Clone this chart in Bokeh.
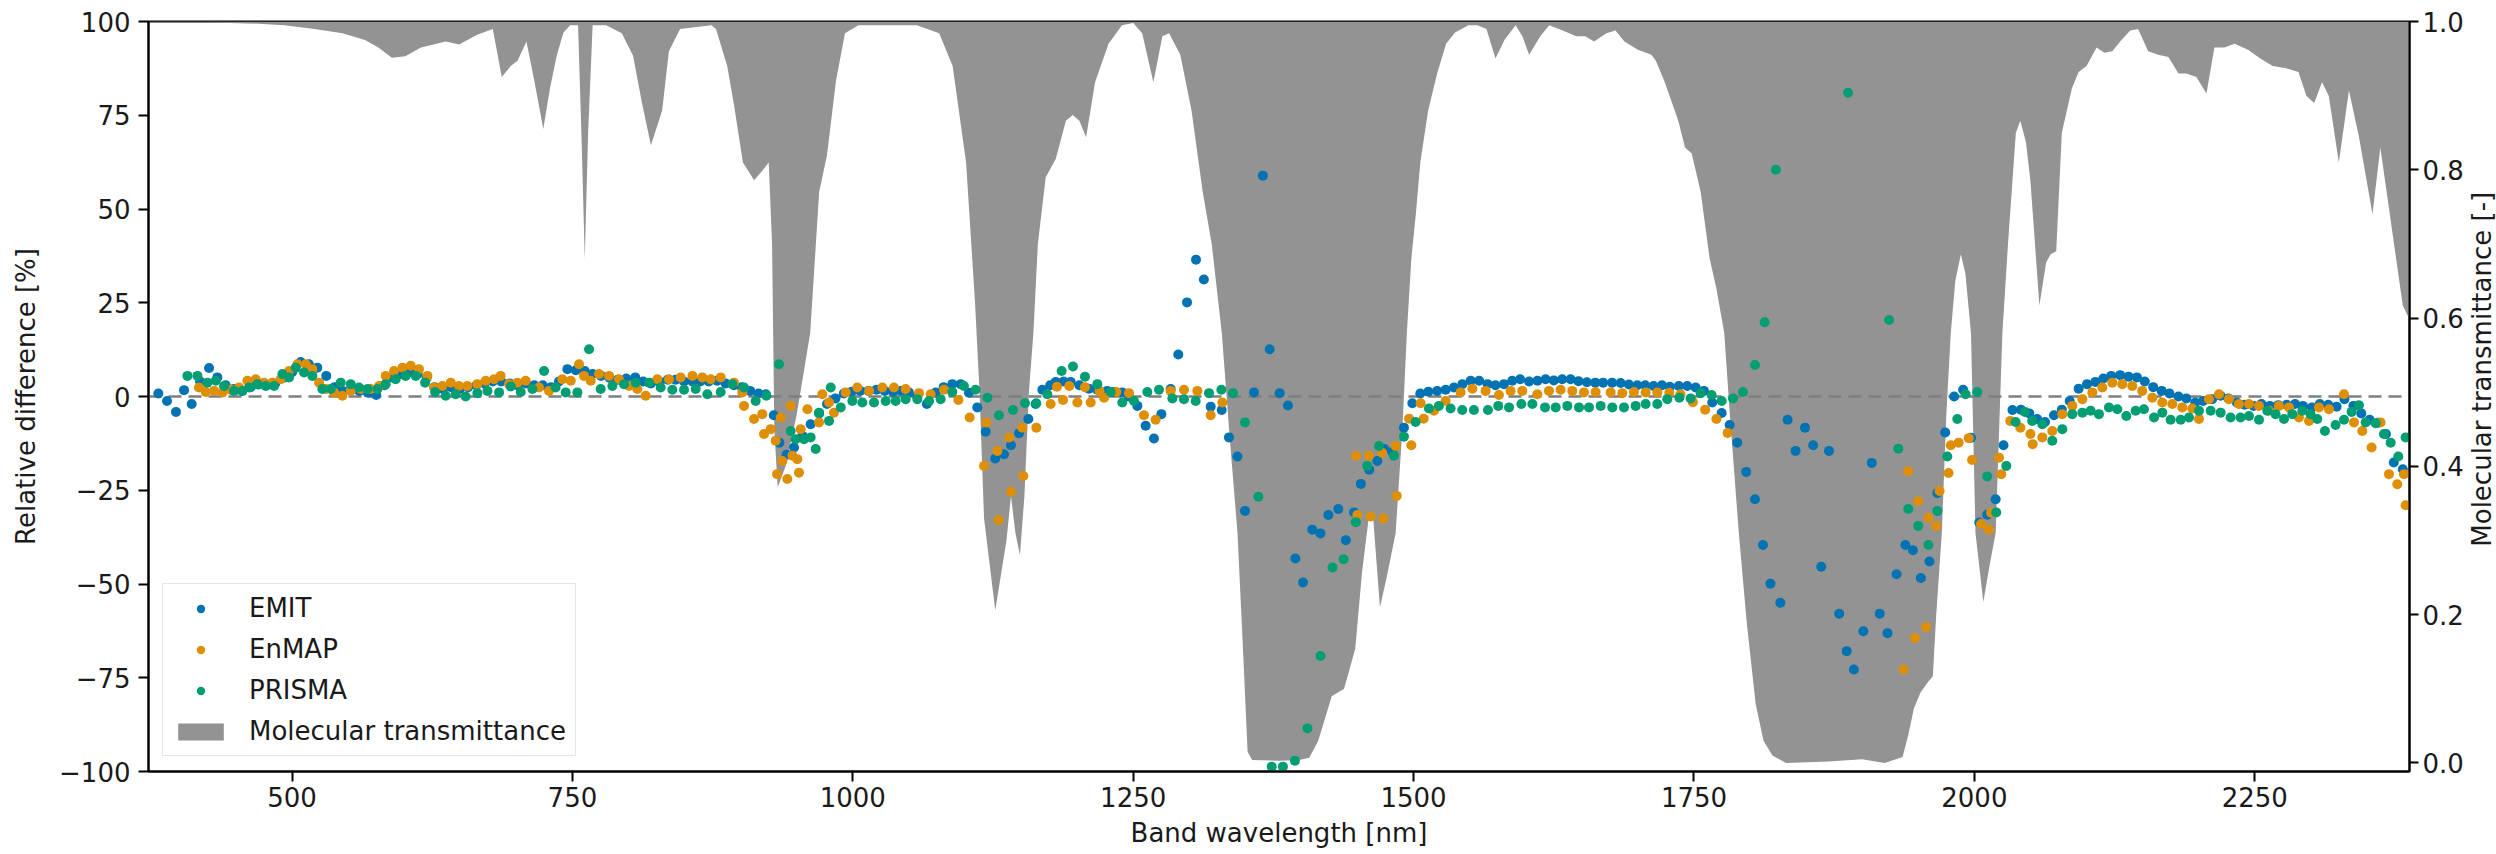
import math
from bokeh.plotting import figure
from bokeh.layouts import row
from bokeh.models import (Range1d, LinearAxis, FixedTicker, Span, Legend, LegendItem,
                          CustomJSTickFormatter, NumeralTickFormatter)
from bokeh.core.properties import value
from bokeh.embed import file_html
from bokeh.resources import INLINE

# ---------------- data ----------------
emit_wl = [380.8, 388.5, 396.5, 403.7, 410.5, 418, 426, 433.4, 440.8, 448, 455.5, 463, 470, 477.5, 485,
           492.4, 500, 507.7, 515, 522.5, 530.5, 538, 545, 552.5, 560, 567.5, 575, 582.5, 590, 597.5,
           605, 612, 620, 627, 634.5, 642, 649.5, 657, 664.5, 671.5, 679, 686.5, 694, 701, 708.5, 716,
           723.5, 731, 738, 745.5, 753, 761, 768, 775.5, 783, 790.5, 798, 806, 813, 820, 827.5, 835,
           842, 849.5, 857, 864, 871.5, 879, 886.5, 894, 901, 908.5, 916, 922.5, 929.5, 934.5, 941,
           947.6, 955, 962.4, 970, 977, 984.5, 992, 999, 1006.5, 1014, 1021, 1028.5, 1036, 1043, 1050,
           1057.5, 1066, 1074, 1081, 1088.7, 1096.2, 1103.5, 1111, 1118.5, 1127, 1134.8, 1141, 1148.2,
           1156.5, 1163, 1169, 1176, 1181, 1188, 1194.2, 1202, 1210.6, 1218, 1226.9, 1233, 1240.3, 1246,
           1253.7, 1261.1, 1268.5, 1275.1, 1283.4, 1290.2, 1298, 1306, 1313, 1319.1, 1328.9, 1335.4,
           1342.9, 1349.7, 1357.7, 1365.6, 1371.7, 1380.6, 1388, 1394.6, 1401.4, 1409.7, 1416.9, 1424,
           1432.9, 1439.6, 1446.9, 1453, 1460.5, 1467.7, 1474, 1481, 1491.4, 1498.9, 1506, 1513.2, 1521,
           1528.6, 1536, 1543.5, 1550.9, 1558.5, 1566, 1573, 1580.6, 1588, 1595, 1603, 1610.5, 1617.7,
           1625, 1632.5, 1640, 1647, 1654.5, 1662, 1669, 1677, 1684.6, 1692, 1699.5, 1706.5, 1714,
           1721.5, 1728.5, 1736.5, 1744, 1751.5, 1758.9, 1766.3, 1774.7, 1781.8, 1788.6, 1796.6, 1804.4,
           1811.5, 1818.2, 1827, 1833.5, 1840.6, 1849, 1856.3, 1863.5, 1870.4, 1879.5, 1886.2, 1892.6,
           1901, 1908.5, 1915.6, 1922.6, 1930.6, 1938.5, 1945.3, 1952.3, 1960, 1967, 1974, 1982, 1990,
           1997, 2004.4, 2011.5, 2019, 2026, 2034, 2041.5, 2049, 2056, 2063, 2071, 2078, 2085, 2093,
           2100.5, 2108, 2115, 2122, 2130, 2137.5, 2145, 2152, 2159.5, 2167, 2174, 2182, 2189, 2197,
           2204, 2212, 2219.5, 2226.5, 2234, 2241, 2249, 2256, 2263.5, 2271, 2278.5, 2286, 2293, 2301,
           2308, 2315.5, 2323, 2330, 2338, 2345, 2352.5, 2360, 2367, 2374, 2382]
emit_rd = [0.8, -1.2, -4.1, 1.7, -2.0, 4.0, 7.6, 5.1, 3.0, 2.0, 1.5, 2.5, 3.2, 3.0, 3.5,
           5.0, 6.5, 9.2, 8.6, 7.7, 5.5, 2.5, 1.5, 2.0, 1.5, 1.0, 0.4, 3.0, 5.0, 6.0,
           6.5, 6.0, 5.0, 2.5, 2.0, 2.5, 2.0, 2.5, 3.0, 3.5, 4.0, 4.0, 3.5, 3.0, 3.5, 3.0,
           3.0, 2.5, 4.0, 7.3, 7.0, 6.8, 6.0, 5.5, 5.0, 4.5, 4.8, 5.1, 4.0, 3.5, 4.0, 4.5,
           4.5, 4.0, 4.0, 4.0, 4.0, 4.2, 3.5, 3.0, 2.5, 1.5, 0.8, 0.6, -5.0, -12.3, -15.5,
           -13.6, -10.5, -7.4, -4.5, -2.0, -0.5, 0.8, 1.3, 1.5, 1.5, 1.8, 1.5, 1.2, 1.5, 1.1,
           0.0, -2.0, 1.1, 2.5, 3.3, 3.3, 1.0, -2.9, -9.4, -16.5, -15.4, -13.0, -9.8,
           -6.0, -2.0, 1.8, 3.0, 3.9, 4.0, 3.9, 3.0, 2.1, 1.8, 1.5, 1.2, 1.1, 0.0,
           -2.5, -7.8, -11.2, -4.7, 2.0, 11.2, 25.1, 36.5, 31.2, -2.7, -3.6, -10.9,
           -16.0, -30.5, 1.1, 58.9, 12.6, 0.9, -2.4, -43.2, -49.6, -35.5, -36.5, -31.6,
           -30.0, -38.3, -30.9, -23.3, -19.5, -17.2, -14.0, -14.8, -8.3, -1.8, 0.8, 1.3, 1.5,
           1.8, 2.4, 3.3, 4.2, 4.2, 3.3, 3.0, 3.3, 4.2, 4.6, 4.0, 4.2, 4.6,
           4.3, 4.6, 4.6, 4.1, 3.8, 3.7, 3.7, 3.7, 3.6, 3.2, 3.0, 3.0, 2.8,
           3.0, 2.6, 2.8, 2.8, 2.4, 1.5, -1.6, -4.4, -7.6, -12.3, -20.1, -27.4,
           -39.6, -49.9, -55.0, -6.2, -14.5, -8.3, -13.0, -45.4, -14.5, -57.9, -67.9, -72.8,
           -62.6, -17.7, -57.9, -63.1, -47.4, -39.6, -41.0, -48.4, -44.0, -25.7, -9.6, 0.0, 1.8,
           -11.0, -33.6, -31.5, -27.4, -13.0, -3.6, -3.5, -4.5, -6.0, -6.8, -5.0, -3.5, -1.2, 2.1,
           3.3, 3.9, 4.8, 5.5, 5.7, 5.3, 5.1, 4.0, 2.5, 1.5, 0.8, 0.0, -0.5, -1.6,
           -1.2, -0.7, 0.2, -0.5, -1.6, -2.2, -2.5, -2.0, -2.5, -2.3, -2.2, -2.0, -2.5, -2.9,
           -2.0, -2.2, -2.7, -0.7, -2.5, -4.5, -6.2, -7.0, -10.0, -17.6, -19.4]

enmap_wl = [417, 423, 430.5, 438, 445.3, 452.7, 460.2, 467.6, 475, 482.5, 489.9, 497.3, 504.8, 512.2,
            518.1, 524.1, 530, 537.4, 544.9, 552.3, 561.2, 570.1, 577.6, 583.5, 590.9, 598.4, 605.8,
            613.2, 620.7, 626.6, 634, 641.5, 648.9, 656.3, 665.2, 672.7, 680.1, 686, 693.5, 700.9,
            708.3, 720.2, 729.1, 741, 748.5, 755.9, 760.3, 766.3, 773.7, 782.6, 791.5, 800.5, 807.9,
            815.3, 825.7, 836.1, 846.5, 857, 865.8, 873.3, 882.2, 894.1, 901.5, 903, 911.9, 919.3,
            920.8, 926.8, 931.2, 932.5, 935.7, 937.2, 941.6, 944.6, 946.1, 950.5, 952, 953.5, 959.5,
            969.9, 972.8, 978.8, 983.2, 993.7, 1004, 1014.5, 1026.3, 1036.7, 1047.1, 1059, 1069.4,
            1081.3, 1094.1, 1104.2, 1117, 1119, 1128.9, 1130, 1139.3, 1141, 1151.1, 1152, 1163.6,
            1176.4, 1182, 1187.4, 1193, 1200.2, 1207, 1212.1, 1220, 1224, 1235, 1246.3, 1259.6, 1270,
            1283.4, 1295.3, 1307.2, 1319.1, 1329.5, 1448.7, 1449.8, 1460.2, 1461.7, 1472, 1473, 1484,
            1485, 1496, 1498, 1506.3, 1509, 1518.2, 1528.6, 1541.9, 1552.4, 1564.2, 1576.1, 1586.5,
            1596.9, 1610.3, 1620.7, 1631.1, 1641.5, 1651.9, 1662.3, 1675.7, 1686.1, 1696.5, 1706.9,
            1717.3, 1728, 1738, 1749, 1760, 1770, 1780, 1937, 1941, 1947, 1950, 1957, 1959, 1966,
            1969, 1977, 1979, 1986, 1995, 1998, 2006, 2013, 2015, 2022, 2024, 2032, 2041, 2050, 2052,
            2060.6, 2069.5, 2078.4, 2087.3, 2096.3, 2105.2, 2114.1, 2123, 2131.9, 2140.8, 2149.7,
            2158.7, 2167.6, 2176.5, 2185.4, 2194.3, 2200.3, 2209.2, 2218.1, 2227, 2235.9, 2244.9,
            2253.8, 2262.7, 2271.6, 2280.5, 2289.4, 2298.4, 2307.3, 2316.2, 2329.6, 2338.5, 2345.9,
            2354.2, 2362.2, 2369.7, 2377.1, 2383.1, 2384.5]
enmap_rd = [2.4, 1.2, 1.5, 1.1, 1.8, 2.4, 4.2, 4.6, 3.7, 3.7, 4.6, 6.8, 8.6, 8.6,
            7.3, 3.7, 2.0, 1.1, 0.2, 1.5, 2.0, 2.0, 2.8, 5.5, 6.8, 7.7, 8.2,
            7.3, 5.5, 2.4, 2.8, 3.7, 2.8, 2.8, 3.3, 4.2, 4.6, 5.5, 3.3, 3.7,
            4.2, 2.4, 1.5, 4.6, 4.2, 8.6, 5.5, 4.2, 6.0, 5.5, 4.6, 2.8, 2.0,
            0.2, 4.6, 4.6, 5.1, 5.5, 5.1, 4.6, 5.1, 3.7, 1.1, -2.5, -6.0, -4.7,
            -10.0, -8.7, -11.8, -20.7, -5.6, -17.2, -22.0, -2.5, -15.8, -16.7, -20.3, -8.7, -3.4,
            -6.9, 0.6, -1.6, -4.3, 1.1, 2.4, 1.5, 2.4, 2.4, 2.0, 0.9, 0.6,
            1.8, -0.9, -5.6, -18.5, -6.9, -14.5, -32.9, -10.9, -25.4, -8.3, -21.2, -8.3,
            -2.0, 2.6, -0.9, 2.8, -1.6, 2.5, -1.6, 1.5, -0.3, 1.2, 0.9, -5.0, -6.2,
            1.5, 1.8, 1.5, -5.0, -1.6, -15.8, -31.6, -15.8, -32.0, -15.0, -32.5, -13.2,
            -26.5, -5.9, -13.0, -1.8, -5.9, -3.8, -1.2, 1.1, 2.1, 1.5, 0.4, 1.5,
            1.5, 0.6, 1.5, 1.8, 1.5, 1.1, 1.2, 1.1, 0.9, 1.2, 1.1,
            1.1, 1.0, 0.6, -1.5, -3.5, -6.0, -9.7, -72.8, -19.9, -64.4, -27.9, -61.5, -32.3, -34.5,
            -25.2, -20.4, -13.0, -12.3, -11.1, -16.9, -34.0, -35.5, -31.0, -16.3, -20.7, -6.5, -8.3, -10.0, -12.7,
            -10.9, -9.2, -4.7, -2.5, -0.7, 1.1, 2.4, 3.7, 3.3, 2.8, 1.5,
            -0.3, -1.6, -2.0, -2.9, -3.2, -6.0, -0.7, 0.6, -0.7, -2.0, -2.0,
            -2.5, -3.8, -2.5, -2.9, -5.6, -6.5, -2.9, -3.4, 0.6, -6.9, -9.2,
            -13.6, -6.9, -20.7, -23.4, -20.7, -29.0]

prisma_wl = [406.7, 415.6, 424.5, 432, 439.4, 448.3, 455.7, 461.7, 469.1, 476.5, 484, 491.4, 497.3,
             503.3, 510.7, 518.1, 527, 534.5, 543.4, 552.3, 559.7, 567.2, 576.1, 583.5, 592.4, 601.3,
             610.3, 618.6, 627.5, 637, 645.9, 654.8, 665.2, 674.2, 684.6, 695, 703.9, 714.3, 724.7,
             735, 744, 754.4, 764.8, 775.2, 785.6, 796, 806.4, 818.3, 828.7, 839.1, 849.5, 859.9,
             870.3, 882.2, 892.6, 903, 913.4, 922.9, 934.2, 944.6, 949, 956.5, 962.4, 966.9, 969.9,
             978.8, 980.3, 989.2, 999.6, 1008.5, 1018.9, 1029.3, 1038.2, 1047.1, 1057.5, 1068, 1078.3,
             1088.7, 1099.1, 1109.5, 1120, 1130.3, 1142.8, 1153.5, 1163.6, 1173.4, 1186.2, 1196.3,
             1207, 1218, 1229.9, 1240.3, 1250.7, 1262.6, 1273, 1284.9, 1295.3, 1305.7, 1317.6, 1328.6,
             1339, 1349.7, 1361.6, 1373.5, 1383.5, 1394.2, 1405.4, 1417, 1427.7, 1437.6, 1448.5,
             1458.7, 1469.1, 1482.5, 1491.4, 1501.8, 1513.7, 1522.6, 1533, 1543.4, 1553.8, 1566.3,
             1575.5, 1585.1, 1596.1, 1605.9, 1617.2, 1626.7, 1637.1, 1647.5, 1656.4, 1666.8, 1677.2,
             1687.6, 1698, 1706.9, 1717.3, 1726.2, 1737, 1747, 1756, 1765.7, 1774.7, 1784.8, 1793.7,
             1804.4, 1813, 1823, 1887.4, 1924, 1932.2, 1941.1, 1950, 1959, 1967, 1975.9, 1984.8,
             1992.2, 2002.6, 2011.5, 2019.5, 2028.5, 2036.8, 2045.1, 2051.6, 2060.6, 2069.5, 2078.4,
             2087.3, 2096.3, 2103.7, 2111.1, 2120, 2127.5, 2135.5, 2143.8, 2151.2, 2160.2, 2167.6,
             2175, 2184, 2191.4, 2200.3, 2210.7, 2219.6, 2228.5, 2237.4, 2244.9, 2253.8, 2261.2,
             2268.6, 2276.1, 2283.5, 2292.4, 2299.8, 2305.8, 2312.6, 2322.1, 2329.6, 2336.4, 2342.9,
             2348.9, 2357.8, 2365.2, 2371.2, 2378, 2384.5]
prisma_rd = [5.5, 5.5, 3.7, 4.2, 2.8, 1.5, 1.5, 2.4, 3.3, 2.8, 2.8, 6.0, 5.1,
             7.7, 6.4, 5.5, 2.0, 2.0, 3.7, 3.3, 2.4, 2.0, 2.0, 3.3, 4.6, 5.5,
             5.5, 3.7, 1.2, 0.2, 0.6, 0.0, 0.9, 1.5, 1.1, 2.7, 1.2, 2.0, 6.8,
             2.4, 1.1, 1.1, 12.6, 2.0, 2.8, 3.3, 3.7, 3.7, 2.4, 1.8, 1.8, 2.0,
             0.6, 1.2, 3.3, 2.4, -1.2, 0.2, 8.6, -9.2, -11.4, -11.4, -10.9, -14.0, -4.3,
             -6.5, 2.4, -2.9, -1.2, -1.6, -1.6, -1.2, -1.2, -0.7, -0.7, -1.2, -0.7,
             1.2, 2.8, 1.8, -0.3, -5.0, -3.6, -1.8, -1.8, 0.6, 6.8, 8.0,
             5.3, 3.3, 1.2, -1.6, -1.2, 1.2, 1.8, -0.5, -0.7, -1.2, 0.9, 1.8,
             0.9, -6.9, -26.7, -98.7, -98.7, -97.1, -88.5, -69.2, -45.6, -43.4, -33.5,
             -18.5, -13.2, -15.8, -10.7, -6.8, -3.2, -2.5, -3.2, -3.6, -3.6, -3.6,
             -2.5, -2.9, -2.0, -2.0, -2.9, -2.9, -2.5, -2.9, -2.9, -2.5, -2.9,
             -2.9, -2.5, -2.0, -2.0, -0.7, -0.3, -0.5, 0.9, 0.4, -1.2, -0.5, 1.2,
             8.4, 19.8, 60.5, 81.0, 20.4, -13.9, -30.0, -34.5, -39.6, -30.5, -16.0, -6.0,
             0.6, 1.2, -21.3, -30.9, -18.5, -6.8, -4.1, -6.5, -7.4, -11.8, -8.7,
             -4.7, -4.3, -3.8, -4.7, -2.9, -3.4, -5.2, -3.8, -3.4, -5.6, -4.3,
             -6.2, -6.2, -5.6, -3.8, -3.8, -4.3, -5.6, -5.6, -5.2, -6.2, -3.8,
             -4.7, -6.0, -4.7, -3.8, -4.7, -6.0, -9.2, -7.6, -6.2, -4.1, -2.3,
             -6.9, -7.1, -10.0, -12.3, -16.0, -10.9]

trans_wl = [372, 420, 470, 493, 520, 545, 565, 577, 589, 601, 615, 637, 649, 665, 679, 687, 695, 701,
            709, 716, 724, 730, 736, 742, 748, 755, 758, 761, 764, 768, 780, 794, 804, 812, 820, 830,
            836, 846, 874, 878, 888, 894, 902, 912, 920, 925, 928, 930, 933, 940, 950, 962, 970, 977,
            985, 993, 1005, 1057, 1077, 1089, 1101, 1109, 1113, 1117, 1127, 1137, 1141, 1145, 1149,
            1153, 1157, 1161, 1165, 1172, 1181, 1190, 1196, 1202, 1208, 1216, 1228, 1240, 1250, 1258,
            1268, 1276, 1282, 1292, 1302, 1312, 1320, 1329, 1336, 1343, 1348, 1352, 1356, 1380, 1398,
            1407, 1415, 1427, 1438, 1448, 1454, 1460, 1464, 1470, 1476, 1484, 1490, 1494, 1498, 1502,
            1506, 1513, 1521, 1529, 1537, 1549, 1557, 1565, 1573, 1581, 1591, 1597, 1603, 1613, 1621,
            1633, 1645, 1653, 1661, 1672, 1680, 1688, 1700, 1712, 1716, 1724, 1736, 1742, 1748, 1756,
            1764, 1770, 1777, 1782, 1786, 1790, 1797, 1805, 1812, 1820, 1832, 1870, 1900, 1920, 1936,
            1941, 1946, 1952, 1959, 1963, 1966, 1971, 1975, 1979, 1983, 1988, 1992, 1997, 2001, 2008,
            2014, 2019, 2025, 2030, 2037, 2041, 2046, 2050, 2058, 2064, 2068, 2073, 2078, 2087, 2093,
            2100, 2109, 2116, 2123, 2130, 2139, 2146, 2155, 2164, 2173, 2182, 2189, 2198, 2207, 2214,
            2223, 2232, 2244, 2255, 2266, 2278, 2289, 2296, 2303, 2310, 2316, 2325, 2334, 2343, 2355,
            2362, 2371, 2382, 2389]
trans_val = [0.999, 0.999, 0.997, 0.995, 0.99, 0.984, 0.975, 0.965, 0.951, 0.953, 0.965, 0.973, 0.969,
             0.982, 0.99, 0.925, 0.94, 0.947, 0.973, 0.92, 0.855, 0.91, 0.954, 0.985, 0.995, 0.995,
             0.85, 0.68, 0.85, 0.995, 0.995, 0.984, 0.954, 0.89, 0.833, 0.88, 0.96, 0.99, 0.995, 0.99,
             0.94, 0.888, 0.81, 0.786, 0.80, 0.81, 0.70, 0.45, 0.372, 0.40, 0.47, 0.58, 0.77, 0.82,
             0.92, 0.984, 0.995, 0.995, 0.984, 0.94, 0.81, 0.62, 0.50, 0.33, 0.206, 0.30, 0.36, 0.31,
             0.28, 0.36, 0.50, 0.58, 0.70, 0.79, 0.815, 0.866, 0.874, 0.866, 0.844, 0.918, 0.97, 0.995,
             0.998, 0.984, 0.918, 0.98, 0.984, 0.955, 0.88, 0.77, 0.70, 0.58, 0.44, 0.31, 0.15, 0.015,
             0.004, 0.003, 0.004, 0.007, 0.03, 0.09, 0.10, 0.154, 0.257, 0.33, 0.33, 0.21, 0.25, 0.31,
             0.45, 0.58, 0.68, 0.74, 0.81, 0.88, 0.93, 0.97, 0.985, 0.995, 0.995, 0.99, 0.95, 0.975,
             0.995, 0.98, 0.955, 0.98, 0.995, 0.988, 0.98, 0.98, 0.973, 0.984, 0.988, 0.973, 0.962,
             0.955, 0.947, 0.918, 0.866, 0.83, 0.822, 0.77, 0.68, 0.64, 0.58, 0.47, 0.39, 0.31, 0.19,
             0.08, 0.03, 0.01, 0.0, 0.002, 0.005, 0.0, 0.008, 0.037, 0.073, 0.095, 0.11, 0.117, 0.20,
             0.31, 0.47, 0.58, 0.65, 0.686, 0.66, 0.58, 0.31, 0.217, 0.27, 0.31, 0.58, 0.70, 0.85, 0.866,
             0.837, 0.785, 0.617, 0.675, 0.686, 0.69, 0.85, 0.91, 0.932, 0.94, 0.965, 0.958, 0.96,
             0.973, 0.988, 0.99, 0.96, 0.955, 0.952, 0.93, 0.93, 0.925, 0.903, 0.965, 0.965, 0.97,
             0.962, 0.95, 0.94, 0.937, 0.932, 0.90, 0.89, 0.918, 0.90, 0.81, 0.907, 0.844, 0.74, 0.83,
             0.734, 0.617, 0.595]

x_ticks = [500, 750, 1000, 1250, 1500, 1750, 2000, 2250]
y_ticks = [-100, -75, -50, -25, 0, 25, 50, 75, 100]
t_ticks = [0.0, 0.2, 0.4, 0.6, 0.8, 1.0]
right_title = ["Molecular transmittance [-]"]

# ---------------- styling ----------------
FONT = "DejaVu Sans"
FS = "26px"
TXT = "#1a1a1a"
C_EMIT, C_ENMAP, C_PRISMA = "#0173b2", "#de8f05", "#029e73"
C_FILL = "#939393"
MAIN_W, SIDE_W, H = 2466, 30, 854

p = figure(width=MAIN_W, height=H, output_backend="svg", toolbar_location=None,
           x_range=Range1d(372, 2388), y_range=Range1d(-100, 100),
           min_border_left=148, min_border_right=MAIN_W - 2411, min_border_top=21,
           min_border_bottom=83)
p.extra_y_ranges = {"trans": Range1d(-0.0115, 1.0)}
p.xgrid.visible = False
p.ygrid.visible = False
p.outline_line_color = "black"
p.outline_line_width = 2
p.background_fill_color = "white"
p.border_fill_color = "white"

fill_r = p.varea(x=trans_wl, y1=trans_val, y2=1.0, y_range_name="trans",
                 fill_color=C_FILL, level="image")

zero = Span(location=0, dimension="width", line_color="#7f7f7f", line_width=2.5,
            line_dash="13 7", level="underlay")
p.add_layout(zero)

r_emit = p.scatter(emit_wl, emit_rd, size=10, fill_color=C_EMIT, line_color=None)
r_enmap = p.scatter(enmap_wl, enmap_rd, size=10, fill_color=C_ENMAP, line_color=None)
r_prisma = p.scatter(prisma_wl, prisma_rd, size=10, fill_color=C_PRISMA, line_color=None)


def style_axis(ax):
    ax.axis_line_color = "black"
    ax.axis_line_width = 2
    ax.major_tick_line_color = "black"
    ax.major_tick_line_width = 2
    ax.major_tick_in = 0
    ax.major_tick_out = 10
    ax.minor_tick_line_color = None
    ax.major_label_text_font = FONT
    ax.major_label_text_font_size = FS
    ax.major_label_text_color = TXT
    ax.axis_label_text_font = FONT
    ax.axis_label_text_font_size = FS
    ax.axis_label_text_font_style = "normal"
    ax.axis_label_text_color = TXT


xa = p.xaxis[0]
xa.ticker = FixedTicker(ticks=x_ticks)
xa.axis_label = "Band wavelength [nm]"
style_axis(xa)
xa.major_label_standoff = 5
xa.axis_label_standoff = 8

ya = p.yaxis[0]
ya.ticker = FixedTicker(ticks=y_ticks)
ya.formatter = CustomJSTickFormatter(
    code="return (tick < 0 ? '\\u2212' : '') + Math.abs(tick).toFixed(0);")
ya.axis_label = "Relative difference [%]"
style_axis(ya)
ya.major_label_standoff = 8
ya.axis_label_standoff = 15

ra = LinearAxis(y_range_name="trans", ticker=FixedTicker(ticks=t_ticks),
                formatter=NumeralTickFormatter(format="0.0"))
style_axis(ra)
ra.major_tick_out = 9
ra.major_label_standoff = 4
p.add_layout(ra, "right")

legend = Legend(items=[LegendItem(label="EMIT", renderers=[r_emit]),
                       LegendItem(label="EnMAP", renderers=[r_enmap]),
                       LegendItem(label="PRISMA", renderers=[r_prisma]),
                       LegendItem(label="Molecular transmittance", renderers=[fill_r])],
                location=(14, 15))
legend.label_text_font = FONT
legend.label_text_font_size = FS
legend.label_text_color = TXT
legend.glyph_width = 57
legend.glyph_height = 21
legend.label_height = 30
legend.label_standoff = 20
legend.spacing = 11
legend.padding = 9
legend.margin = 0
legend.border_line_color = "#cccccc"
legend.border_line_width = 1.5
legend.background_fill_color = "white"
legend.background_fill_alpha = 0.8
p.add_layout(legend, "center")

# narrow strip on the right carrying the right-axis title (reads bottom to top)
side = figure(width=SIDE_W, height=H, output_backend="svg", toolbar_location=None,
              x_range=Range1d(0, SIDE_W), y_range=Range1d(0, H), min_border=0)
side.axis.visible = False
side.grid.visible = False
side.outline_line_color = None
side.background_fill_color = "white"
side.border_fill_color = "white"
side.text(x=[15], y=[H - 396], text=right_title, angle=math.pi / 2,
          text_align="center", text_baseline="middle",
          text_font=value(FONT), text_font_size=value(FS), text_color=TXT)

layout = row(p, side, spacing=0)
open("out.html", "w").write(file_html(layout, INLINE))
